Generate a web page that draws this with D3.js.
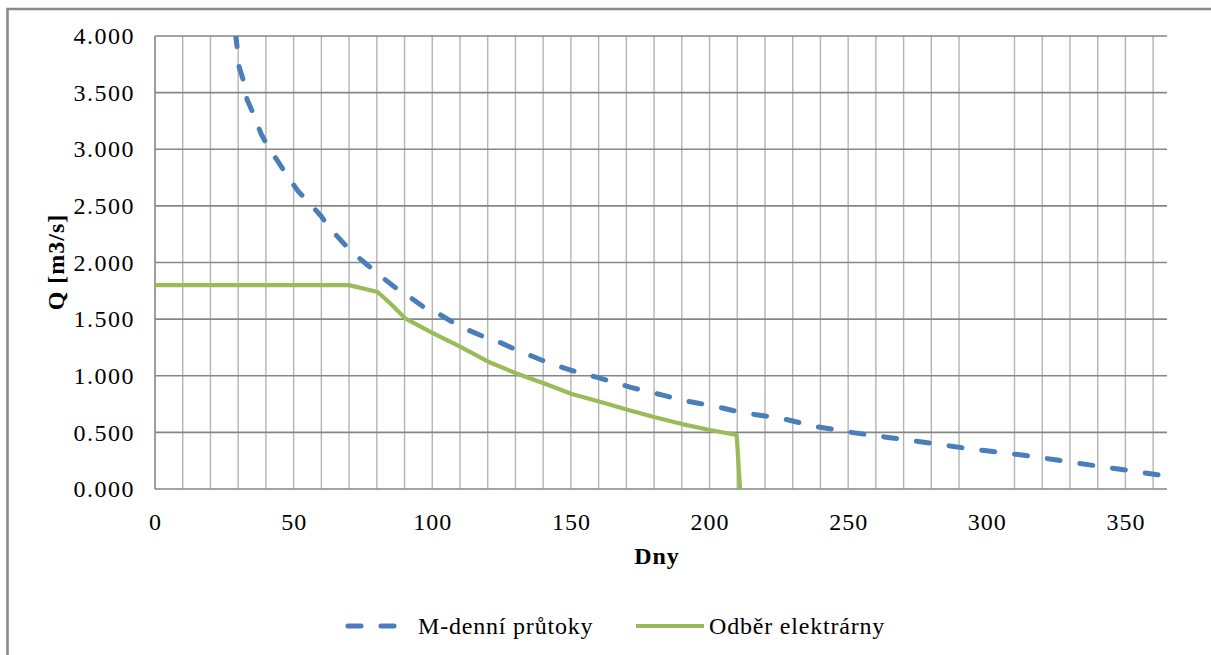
<!DOCTYPE html>
<html>
<head>
<meta charset="utf-8">
<script src="https://cdn.jsdelivr.net/npm/d3@7"></script>
<style>
  body { margin: 0; background: #fff; }
  text { font-family: "Liberation Serif", "Times New Roman", serif; fill: #000; }
</style>
</head>
<body>
<svg id="chart" width="1211" height="655"></svg>
<script>
// M-denní průtoky
const flowDays = [29.0, 29.7, 30.3, 32.1, 33.2, 35.7, 38.2, 40.8, 44.4, 47.6, 51.6, 55.5, 59.9, 63.1,
    70.3, 76.5, 81.9, 86.6, 91.6, 96.7, 102.1, 107.5, 113.3, 119.0, 124.8, 130.2, 136.3, 141.9,
    147.9, 153.5, 159.9, 165.5, 171.6, 177.9, 183.9, 190.0, 196.0, 202.0, 208.4, 214.3, 226.2,
    238.8, 251.0, 263.0, 276.0, 288.0, 300.0, 312.6, 324.7, 337.0, 349.4, 361.6, 365];
const flowValues = [4.02, 3.89, 3.73, 3.59, 3.44, 3.30, 3.14, 3.02, 2.89, 2.77, 2.63, 2.53, 2.41, 2.30,
    2.11, 1.98, 1.87, 1.78, 1.70, 1.61, 1.55, 1.47, 1.40, 1.34, 1.29, 1.23, 1.17, 1.115,
    1.066, 1.022, 0.983, 0.942, 0.898, 0.859, 0.824, 0.785, 0.757, 0.731, 0.693, 0.665, 0.622,
    0.550, 0.500, 0.460, 0.418, 0.375, 0.337, 0.300, 0.258, 0.213, 0.170, 0.126, 0.112];

// Odběr elektrárny
const plantDays = [0, 70, 80.3, 84.8, 90.2, 100.4, 110, 120.2, 130.4, 141.9, 150.3, 160.5, 170.7,
    180.3, 190.5, 200.2, 209.8, 211];
const plantValues = [1.80, 1.80, 1.74, 1.64, 1.507, 1.375, 1.257, 1.124, 1.02, 0.918, 0.839, 0.771, 0.698,
    0.633, 0.571, 0.521, 0.477, 0];

const xTicks = [0, 50, 100, 150, 200, 250, 300, 350];
const yTicks = [0, 0.5, 1, 1.5, 2, 2.5, 3, 3.5, 4];
// svislé mřížky po 10 dnech (u 300 chybí)
const xGrid = [10, 20, 30, 40, 50, 60, 70, 80, 90, 100, 110, 120, 130, 140, 150, 160, 170, 180, 190,
    200, 210, 220, 230, 240, 250, 260, 270, 280, 290, 310, 320, 330, 340, 350, 360];

const legendNames = ["M-denní průtoky", "Odběr elektrárny"];
const colors = ["#4a7ebb", "#9bbb59"];

const margin = { left: 155, top: 36 };
const width = 1012, height = 453;

const svg = d3.select("#chart");

// rámeček grafu
svg.append("path")
    .attr("d", "M7.5,655 V9 H1211")
    .attr("fill", "none")
    .attr("stroke", "#8a8a8a")
    .attr("stroke-width", 2.6);

const g = svg.append("g").attr("transform", `translate(${margin.left},${margin.top})`);

const x = d3.scaleLinear().domain([0, 365]).range([0, width]);
const y = d3.scaleLinear().domain([0, 4]).range([height, 0]);

g.append("defs").append("clipPath").attr("id", "plotClip")
    .append("rect").attr("width", width).attr("height", height);

g.selectAll("line.vgrid")
    .data(xGrid)
    .enter().append("line")
    .attr("class", "vgrid")
    .attr("x1", d => x(d)).attr("x2", d => x(d))
    .attr("y1", 0).attr("y2", height)
    .attr("stroke", "#b4b4b4")
    .attr("stroke-width", 1.4);

g.selectAll("line.hgrid")
    .data(yTicks)
    .enter().append("line")
    .attr("class", "hgrid")
    .attr("x1", 0).attr("x2", width)
    .attr("y1", d => y(d)).attr("y2", d => y(d))
    .attr("stroke", "#868686")
    .attr("stroke-width", 1.6);

// osa y
g.append("line")
    .attr("x1", 0).attr("x2", 0).attr("y1", 0).attr("y2", height)
    .attr("stroke", "#868686").attr("stroke-width", 1.6);

const yAxis = g.append("g")
    .call(d3.axisLeft(y).tickValues(yTicks).tickFormat(d3.format(".3f")).tickSize(0).tickPadding(20));
yAxis.select(".domain").remove();
yAxis.selectAll("text")
    .attr("font-size", 24)
    .attr("letter-spacing", 1.5)
    .attr("font-family", "Liberation Serif");

const xAxis = g.append("g")
    .attr("transform", `translate(0,${height})`)
    .call(d3.axisBottom(x).tickValues(xTicks).tickSize(0).tickPadding(24));
xAxis.select(".domain").remove();
xAxis.selectAll("text")
    .attr("font-size", 24)
    .attr("letter-spacing", 1)
    .attr("font-family", "Liberation Serif");

const line = d3.line().x(d => x(d[0])).y(d => y(d[1]));

const plot = g.append("g").attr("clip-path", "url(#plotClip)");

plot.append("path")
    .datum(d3.zip(plantDays, plantValues))
    .attr("d", line)
    .attr("fill", "none")
    .attr("stroke", colors[1])
    .attr("stroke-width", 4.2)
    .attr("stroke-linejoin", "round");

plot.append("path")
    .datum(d3.zip(flowDays, flowValues))
    .attr("d", line)
    .attr("fill", "none")
    .attr("stroke", colors[0])
    .attr("stroke-width", 5)
    .attr("stroke-linecap", "round")
    .attr("stroke-dasharray", "13,20");

// popisky os
svg.append("text")
    .attr("transform", "translate(64,262) rotate(-90)")
    .attr("text-anchor", "middle")
    .attr("font-size", 24)
    .attr("font-weight", "bold")
    .attr("letter-spacing", 1)
    .text("Q [m3/s]");

svg.append("text")
    .attr("x", 657).attr("y", 564)
    .attr("text-anchor", "middle")
    .attr("font-size", 24)
    .attr("font-weight", "bold")
    .attr("letter-spacing", 1)
    .text("Dny");

// legenda
const legendY = 626;
svg.append("line")
    .attr("x1", 348).attr("x2", 397).attr("y1", legendY).attr("y2", legendY)
    .attr("stroke", colors[0]).attr("stroke-width", 5)
    .attr("stroke-linecap", "round")
    .attr("stroke-dasharray", "13,20");
svg.append("text")
    .attr("x", 418).attr("y", legendY + 8)
    .attr("font-size", 24).attr("letter-spacing", 0.8)
    .text(legendNames[0]);

svg.append("line")
    .attr("x1", 636).attr("x2", 704).attr("y1", legendY).attr("y2", legendY)
    .attr("stroke", colors[1]).attr("stroke-width", 4.2);
svg.append("text")
    .attr("x", 709).attr("y", legendY + 8)
    .attr("font-size", 24).attr("letter-spacing", 0.8)
    .text(legendNames[1]);
</script>
</body>
</html>
